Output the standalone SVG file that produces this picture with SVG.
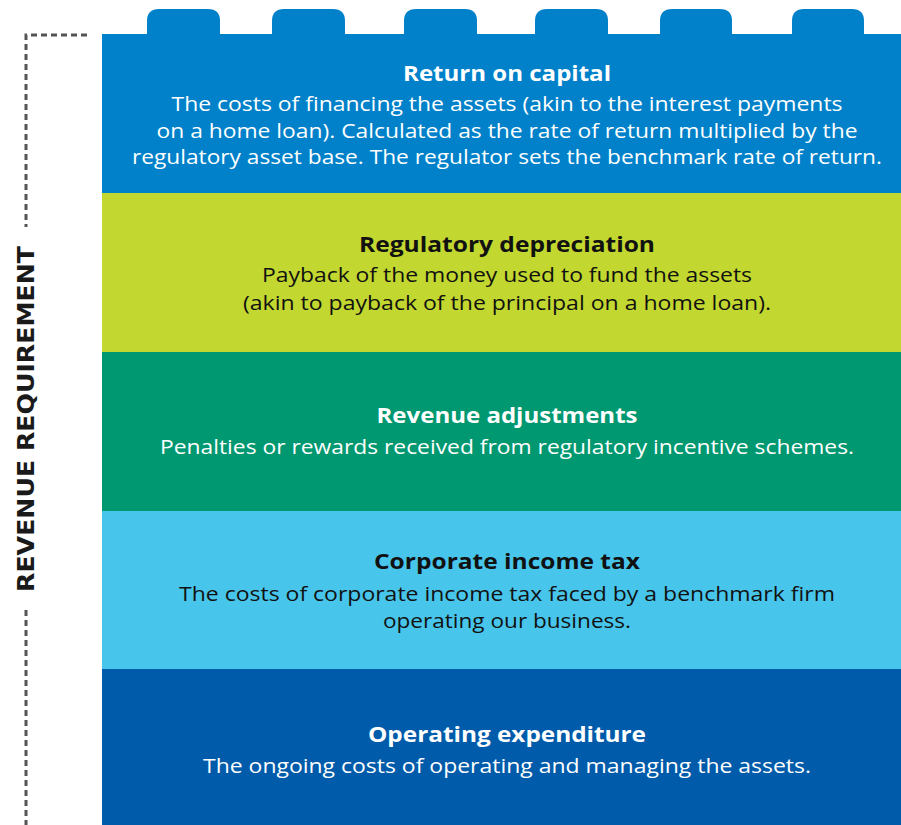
<svg xmlns="http://www.w3.org/2000/svg" width="901" height="825" viewBox="0 0 901 825">
  <defs>
    <style>
      .title { font-family: "Open Sans", "Liberation Sans", sans-serif; font-weight: bold; font-size: 20.5px; text-anchor: middle; }
      .body { font-family: "Open Sans", "Liberation Sans", sans-serif; font-size: 19.5px; text-anchor: middle; }
      .light { fill: #ffffff; }
      .dark { fill: #111111; }
      .guide { fill: none; stroke: #555555; stroke-width: 3; stroke-dasharray: 6 4; }
      .side { font-family: "DejaVu Sans", "Liberation Sans", sans-serif; font-weight: bold; font-size: 23px; fill: #1a1a1a; text-anchor: middle; }
    </style>
  </defs>

  <rect width="901" height="825" fill="#ffffff"/>

  <!-- dashed bracket with the vertical label -->
  <g id="bracket">
    <path class="guide" d="M87,35 H26 V227"/>
    <path class="guide" d="M26,610 V825"/>
    <text class="side" x="34" y="419" transform="rotate(-90 34 419)" textLength="346" lengthAdjust="spacingAndGlyphs">REVENUE REQUIREMENT</text>
  </g>

  <!-- top block with its studs -->
  <g id="return-on-capital">
    <g fill="#0081c9">
      <path d="M147,35 V21 Q147,9 159,9 H208 Q220,9 220,21 V35 Z"/>
      <path d="M272,35 V21 Q272,9 284,9 H333 Q345,9 345,21 V35 Z"/>
      <path d="M404,35 V21 Q404,9 416,9 H465 Q477,9 477,21 V35 Z"/>
      <path d="M535,35 V21 Q535,9 547,9 H596 Q608,9 608,21 V35 Z"/>
      <path d="M660,35 V21 Q660,9 672,9 H720 Q732,9 732,21 V35 Z"/>
      <path d="M792,35 V21 Q792,9 804,9 H852 Q864,9 864,21 V35 Z"/>
      <rect x="102" y="34" width="799" height="159"/>
    </g>
    <text class="title light" x="507" y="81" textLength="208" lengthAdjust="spacingAndGlyphs">Return on capital</text>
    <text class="body light" x="507" y="111" textLength="671" lengthAdjust="spacingAndGlyphs">The costs of financing the assets (akin to the interest payments</text>
    <text class="body light" x="507" y="138" textLength="701" lengthAdjust="spacingAndGlyphs">on a home loan). Calculated as the rate of return multiplied by the</text>
    <text class="body light" x="507" y="164" textLength="750" lengthAdjust="spacingAndGlyphs">regulatory asset base. The regulator sets the benchmark rate of return.</text>
  </g>

  <g id="regulatory-depreciation">
    <rect x="102" y="193" width="799" height="159" fill="#c2d72f"/>
    <text class="title dark" x="507" y="252" textLength="296" lengthAdjust="spacingAndGlyphs">Regulatory depreciation</text>
    <text class="body dark" x="507" y="282" textLength="490" lengthAdjust="spacingAndGlyphs">Payback of the money used to fund the assets</text>
    <text class="body dark" x="507" y="310" textLength="528" lengthAdjust="spacingAndGlyphs">(akin to payback of the principal on a home loan).</text>
  </g>

  <g id="revenue-adjustments">
    <rect x="102" y="352" width="799" height="159" fill="#009870"/>
    <text class="title light" x="507" y="423" textLength="261" lengthAdjust="spacingAndGlyphs">Revenue adjustments</text>
    <text class="body light" x="507" y="454" textLength="694" lengthAdjust="spacingAndGlyphs">Penalties or rewards received from regulatory incentive schemes.</text>
  </g>

  <g id="corporate-income-tax">
    <rect x="102" y="511" width="799" height="158" fill="#48c5eb"/>
    <text class="title dark" x="507" y="569" textLength="266" lengthAdjust="spacingAndGlyphs">Corporate income tax</text>
    <text class="body dark" x="507" y="601" textLength="656" lengthAdjust="spacingAndGlyphs">The costs of corporate income tax faced by a benchmark firm</text>
    <text class="body dark" x="507" y="628" textLength="248" lengthAdjust="spacingAndGlyphs">operating our business.</text>
  </g>

  <g id="operating-expenditure">
    <rect x="102" y="669" width="799" height="156" fill="#005baa"/>
    <text class="title light" x="507" y="742" textLength="278" lengthAdjust="spacingAndGlyphs">Operating expenditure</text>
    <text class="body light" x="507" y="773" textLength="608" lengthAdjust="spacingAndGlyphs">The ongoing costs of operating and managing the assets.</text>
  </g>
</svg>
